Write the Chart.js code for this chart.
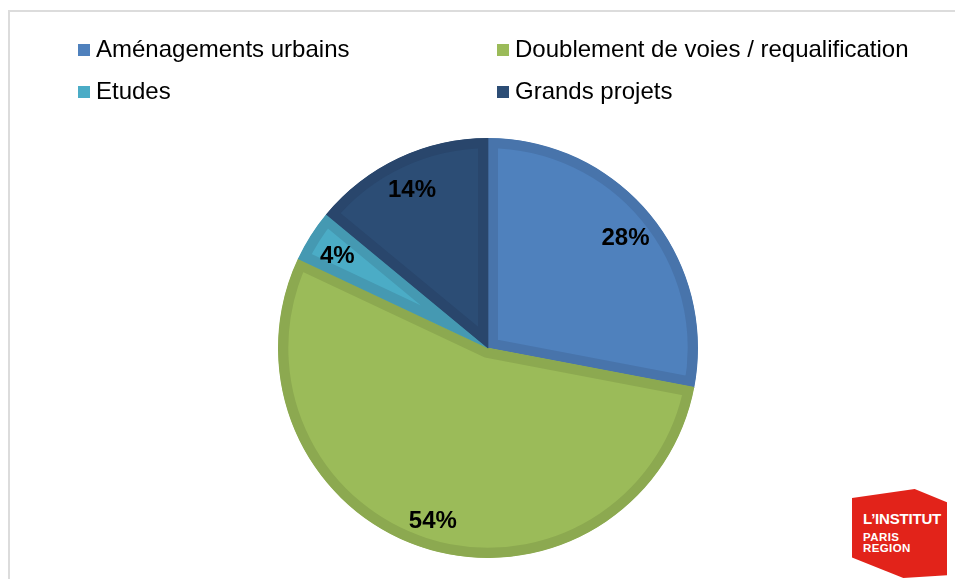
<!DOCTYPE html>
<html lang="fr">
<head>
  <meta charset="UTF-8">
  <title>Répartition des projets</title>
  <script src="https://cdn.jsdelivr.net/npm/chart.js"></script>
  <style>
    html, body {
      margin: 0;
      padding: 0;
      background: #fff;
    }

    #wrap {
      position: relative;
      width: 955px;
      height: 579px;
      overflow: hidden;
      font-family: "Liberation Sans", Arial, sans-serif;
    }

    #frame {
      position: absolute;
      left: 8px;
      top: 10px;
      right: -5px;
      bottom: -5px;
      border-top: 2px solid #dcdcdc;
      border-left: 2px solid #dcdcdc;
    }

    #chart {
      position: absolute;
      left: 0;
      top: 0;
    }

    .leg {
      position: absolute;
      font-size: 24px;
      line-height: 24px;
      color: #000;
      white-space: nowrap;
    }

    .leg span {
      position: absolute;
      left: -18px;
      top: 7px;
      width: 12px;
      height: 12px;
    }

    #logo {
      position: absolute;
      left: 852px;
      top: 489px;
      width: 95px;
      height: 89px;
      background: #e2231a;
      clip-path: polygon(0 10%, 66% 0, 100% 15%, 100% 97%, 54% 100%, 0 77%);
      color: #fff;
      font-weight: bold;
    }

    #logo div {
      position: absolute;
      left: 11px;
      line-height: 1;
    }
  </style>
</head>
<body>

<div id="wrap">
  <div id="frame"></div>
  <canvas id="chart" width="955" height="579"></canvas>
  <div id="legend"></div>
  <div id="logo">
    <div style="top:22px;font-size:15px;letter-spacing:-0.2px">L’INSTITUT</div>
    <div style="top:43px;font-size:11.5px;letter-spacing:0.4px">PARIS</div>
    <div style="top:54px;font-size:11.5px;letter-spacing:0.4px">REGION</div>
  </div>
</div>

<script>
  // data (percent shares)
  const categories = ['Aménagements urbains', 'Doublement de voies / requalification', 'Etudes', 'Grands projets'];
  const shares = [28, 54, 4, 14];
  const fillColors = ['#4f81bd', '#9bbb59', '#4bacc6', '#2c4d75'];
  const edgeColors = ['#4874ab', '#8ca950', '#4599b2', '#29466c'];

  // legend laid out in two columns, like the original
  const legendSlots = [[96, 37], [515, 37], [96, 79], [515, 79]];
  const legendDiv = document.getElementById('legend');
  categories.forEach((name, i) => {
    const item = document.createElement('div');
    item.className = 'leg';
    item.style.left = legendSlots[i][0] + 'px';
    item.style.top = legendSlots[i][1] + 'px';
    item.innerHTML = '<span style="background:' + fillColors[i] + '"></span>' + name;
    legendDiv.appendChild(item);
  });

  // draws the "NN%" labels inside each slice
  const sliceLabels = {
    id: 'sliceLabels',
    afterDatasetsDraw(chart) {
      const ctx = chart.ctx;
      const meta = chart.getDatasetMeta(0);
      ctx.save();
      ctx.font = 'bold 24px "Liberation Sans", Arial, sans-serif';
      ctx.fillStyle = '#000';
      ctx.textAlign = 'center';
      ctx.textBaseline = 'middle';
      meta.data.forEach((arc, i) => {
        const p = arc.getProps(['x', 'y', 'startAngle', 'endAngle', 'outerRadius'], true);
        const mid = (p.startAngle + p.endAngle) / 2;
        const r = p.outerRadius * 0.85;
        ctx.fillText(shares[i] + '%', p.x + Math.cos(mid) * r, p.y + Math.sin(mid) * r + 4);
      });
      ctx.restore();
    }
  };

  new Chart(document.getElementById('chart'), {
    type: 'pie',
    data: {
      labels: categories,
      datasets: [{
        data: shares,
        backgroundColor: fillColors,
        borderColor: edgeColors,
        borderWidth: 10,
        borderAlign: 'inner'
      }]
    },
    options: {
      responsive: false,
      animation: false,
      radius: 210,
      layout: {
        padding: { left: 21, right: 0, top: 117, bottom: 0 }
      },
      plugins: {
        legend: { display: false },
        tooltip: { enabled: false }
      }
    },
    plugins: [sliceLabels]
  });
</script>

</body>
</html>
